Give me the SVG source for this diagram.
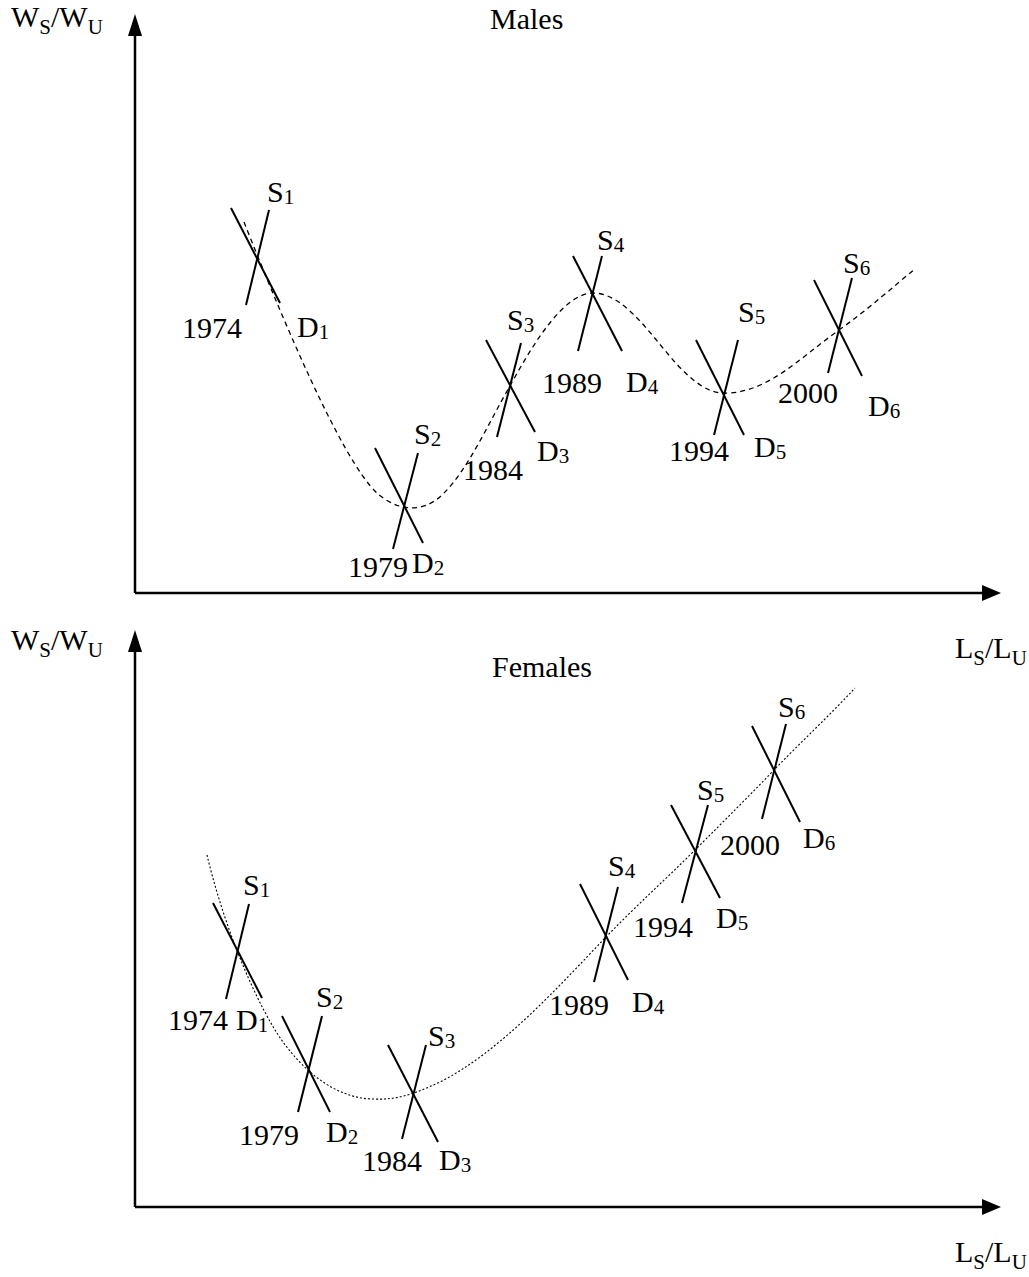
<svg xmlns="http://www.w3.org/2000/svg" width="1029" height="1277" viewBox="0 0 1029 1277">
<style>
text{font-family:"Liberation Serif","Times New Roman",serif;font-size:30px;fill:#000}
.sub{font-size:21px}
.ax{stroke:#000;stroke-width:2.5;fill:none}
.x{stroke:#000;stroke-width:2;fill:none}
.dash{stroke:#000;stroke-width:1.3;fill:none;stroke-dasharray:5,4}
.dot{stroke:#000;stroke-width:1.1;fill:none;stroke-dasharray:2,2}
</style>
<defs>
<polygon id="up" points="0,0 -7,22 7,22" fill="#000"/>
<polygon id="right" points="0,0 -19,-8 -19,8" fill="#000"/>
</defs>
<g id="axes-top">
<line class="ax" x1="135" y1="30" x2="135" y2="593"/>
<line class="ax" x1="135" y1="593" x2="985" y2="593"/>
<use href="#up" x="135" y="14"/>
<use href="#right" x="1001" y="593"/>
</g>
<g id="axes-bottom">
<line class="ax" x1="135" y1="645" x2="135" y2="1207"/>
<line class="ax" x1="135" y1="1207" x2="985" y2="1207"/>
<use href="#up" x="135" y="630"/>
<use href="#right" x="1001" y="1207"/>
</g>
<g id="labels">
<text x="11" y="27">W<tspan class="sub" dy="7">S</tspan><tspan dy="-7">/W</tspan><tspan class="sub" dy="7">U</tspan></text>
<text x="490" y="29">Males</text>
<text x="955" y="658">L<tspan class="sub" dy="7">S</tspan><tspan dy="-7">/L</tspan><tspan class="sub" dy="7">U</tspan></text>
<text x="11" y="650">W<tspan class="sub" dy="7">S</tspan><tspan dy="-7">/W</tspan><tspan class="sub" dy="7">U</tspan></text>
<text x="492" y="677">Females</text>
<text x="955" y="1262">L<tspan class="sub" dy="7">S</tspan><tspan dy="-7">/L</tspan><tspan class="sub" dy="7">U</tspan></text>
</g>
<g id="connectors">
<path class="dash" d="M244,222 C275,300 340,460 378,494 C398,511 423,514 443,494 C468,470 490,420 510,386 C535,340 565,293 593,293 C630,293 660,352 690,377 C705,390 715,394 730,393 C770,390 800,358 839,330 C870,308 895,285 915,269"/>
<path class="dot" d="M207,855 C220,910 245,980 275,1030 C300,1070 335,1098 372,1099 C395,1100 410,1096 440,1082 C500,1052 560,985 606,937 C640,902 665,880 695,850 C725,820 750,795 774,770 C800,743 830,715 855,688"/>
</g>
<g id="m1974">
<line class="x" x1="231" y1="208" x2="280" y2="303"/><line class="x" x1="269" y1="210" x2="246" y2="305"/>
<text x="267" y="202">S<tspan class="sub" dy="2">1</tspan></text>
<text x="182" y="338">1974</text>
<text x="297" y="337">D<tspan class="sub" dy="2">1</tspan></text>
</g>
<g id="m1979">
<line class="x" x1="375" y1="448" x2="423" y2="543"/><line class="x" x1="418" y1="453" x2="393" y2="549"/>
<text x="414" y="444">S<tspan class="sub" dy="2">2</tspan></text>
<text x="348" y="577">1979</text>
<text x="412" y="573">D<tspan class="sub" dy="2">2</tspan></text>
</g>
<g id="m1984">
<line class="x" x1="486" y1="340" x2="535" y2="432"/><line class="x" x1="521" y1="343" x2="497" y2="437"/>
<text x="507" y="330">S<tspan class="sub" dy="2">3</tspan></text>
<text x="463" y="480">1984</text>
<text x="537" y="461">D<tspan class="sub" dy="2">3</tspan></text>
</g>
<g id="m1989">
<line class="x" x1="573" y1="256" x2="622" y2="351"/><line class="x" x1="602" y1="256" x2="578" y2="351"/>
<text x="597" y="250">S<tspan class="sub" dy="2">4</tspan></text>
<text x="542" y="393">1989</text>
<text x="626" y="392">D<tspan class="sub" dy="2">4</tspan></text>
</g>
<g id="m1994">
<line class="x" x1="696" y1="340" x2="744" y2="435"/><line class="x" x1="738" y1="340" x2="714" y2="435"/>
<text x="738" y="322">S<tspan class="sub" dy="2">5</tspan></text>
<text x="669" y="461">1994</text>
<text x="754" y="457">D<tspan class="sub" dy="2">5</tspan></text>
</g>
<g id="m2000">
<line class="x" x1="814" y1="280" x2="862" y2="376"/><line class="x" x1="852" y1="278" x2="828" y2="373"/>
<text x="843" y="273">S<tspan class="sub" dy="2">6</tspan></text>
<text x="778" y="403">2000</text>
<text x="868" y="416">D<tspan class="sub" dy="2">6</tspan></text>
</g>
<g id="f1974">
<line class="x" x1="213" y1="903" x2="262" y2="998"/><line class="x" x1="249" y1="904" x2="226" y2="999"/>
<text x="243" y="895">S<tspan class="sub" dy="2">1</tspan></text>
<text x="168" y="1030">1974</text>
<text x="236" y="1030">D<tspan class="sub" dy="2">1</tspan></text>
</g>
<g id="f1979">
<line class="x" x1="282" y1="1016" x2="330" y2="1112"/><line class="x" x1="322" y1="1016" x2="298" y2="1112"/>
<text x="316" y="1007">S<tspan class="sub" dy="2">2</tspan></text>
<text x="239" y="1145">1979</text>
<text x="326" y="1142">D<tspan class="sub" dy="2">2</tspan></text>
</g>
<g id="f1984">
<line class="x" x1="388" y1="1045" x2="438" y2="1142"/><line class="x" x1="426" y1="1045" x2="402" y2="1139"/>
<text x="428" y="1046">S<tspan class="sub" dy="2">3</tspan></text>
<text x="362" y="1171">1984</text>
<text x="439" y="1170">D<tspan class="sub" dy="2">3</tspan></text>
</g>
<g id="f1989">
<line class="x" x1="580" y1="884" x2="628" y2="980"/><line class="x" x1="618" y1="887" x2="594" y2="982"/>
<text x="608" y="876">S<tspan class="sub" dy="2">4</tspan></text>
<text x="549" y="1015">1989</text>
<text x="632" y="1012">D<tspan class="sub" dy="2">4</tspan></text>
</g>
<g id="f1994">
<line class="x" x1="671" y1="805" x2="720" y2="898"/><line class="x" x1="708" y1="805" x2="682" y2="903"/>
<text x="697" y="800">S<tspan class="sub" dy="2">5</tspan></text>
<text x="633" y="937">1994</text>
<text x="716" y="928">D<tspan class="sub" dy="2">5</tspan></text>
</g>
<g id="f2000">
<line class="x" x1="752" y1="726" x2="800" y2="822"/><line class="x" x1="786" y1="724" x2="762" y2="819"/>
<text x="778" y="717">S<tspan class="sub" dy="2">6</tspan></text>
<text x="720" y="855">2000</text>
<text x="803" y="848">D<tspan class="sub" dy="2">6</tspan></text>
</g>
</svg>
